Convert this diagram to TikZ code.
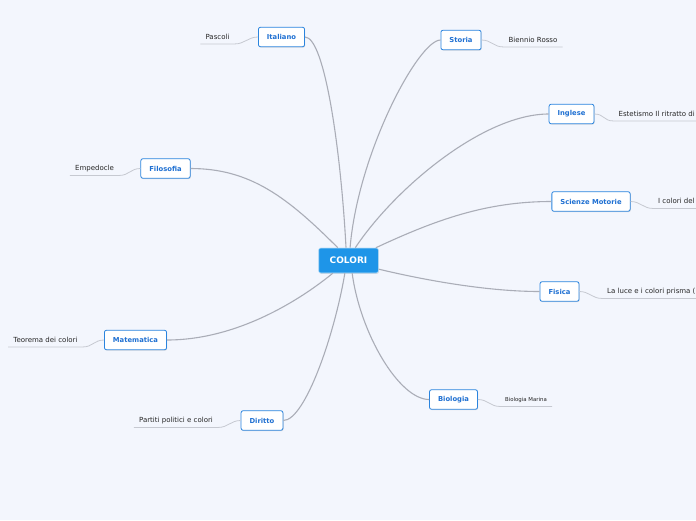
\documentclass[tikz,border=0pt]{standalone}
\usepackage{fontspec}
\setmainfont{DejaVu Sans}
\usetikzlibrary{shadows}
\definecolor{pagebg}{HTML}{F3F6FD}
\definecolor{rootblue}{HTML}{1E95E8}
\definecolor{topicblue}{HTML}{2A84DE}
\definecolor{topictext}{HTML}{1F70D2}
\definecolor{branchgrey}{HTML}{AAADB7}
\definecolor{twiggrey}{HTML}{C6C9D1}

\begin{document}
\begin{tikzpicture}[x=1pt,y=-1pt,
  root/.style={fill=rootblue,draw=white!70!rootblue,line width=0.6pt,rounded corners=2pt,
    font=\bfseries\fontsize{9}{10}\selectfont,text=white,inner xsep=11pt,minimum height=25pt,
    drop shadow={shadow xshift=0.6pt,shadow yshift=-0.8pt,opacity=0.25}},
  topic/.style={fill=white,draw=topicblue,line width=0.8pt,rounded corners=2pt,
    font=\bfseries\fontsize{6.8}{8}\selectfont,text=topictext,inner xsep=8.5pt,minimum height=19.5pt,
    drop shadow={shadow xshift=0.6pt,shadow yshift=-0.8pt,opacity=0.25}},
  leaf/.style={font=\fontsize{7}{8}\selectfont,text=black!85,inner xsep=5pt,inner ysep=3pt,
    text height=5pt,text depth=1.5pt},
  branch/.style={draw=branchgrey,line width=1.1pt},
  twig/.style={draw=twiggrey,line width=0.8pt},
]
\useasboundingbox[fill=pagebg] (0,0) rectangle (696,520);

\node[root] (colori) at (348.5,260.5) {COLORI};
\node[topic] (italiano) at (281.5,37) {Italiano};
\node[topic] (storia) at (461,40) {Storia};
\node[topic] (inglese) at (571.5,114) {Inglese};
\node[topic] (scienze) at (591,201.5) {Scienze Motorie};
\node[topic] (fisica) at (559.5,291.5) {Fisica};
\node[topic] (biologia) at (453.5,399.5) {Biologia};
\node[topic] (diritto) at (262,420.5) {Diritto};
\node[topic] (matematica) at (135.5,340) {Matematica};
\node[topic] (filosofia) at (165.5,168.5) {Filosofia};

\node[leaf] (pascoli) at (217.5,37.5) {Pascoli};
\node[leaf] (biennio) at (533,40.5) {Biennio Rosso};
\node[leaf,anchor=east] (estetismo) at (700,114.5) {Estetismo Il ritratto di};
\node[leaf,anchor=west] (coloridel) at (653,202) {I colori del};
\node[leaf,anchor=west] (luce) at (602,292) {La luce e i colori prisma (};
\node[leaf,font=\fontsize{5.4}{6}\selectfont] (marina) at (526,400) {Biologia Marina};
\node[leaf] (partiti) at (176,421) {Partiti politici e colori};
\node[leaf] (teorema) at (45.5,340.5) {Teorema dei colori};
\node[leaf] (empedocle) at (94.5,169) {Empedocle};

\draw[branch] (italiano.east) .. controls +(20,0) and +(-5,-95) .. (colori.101);
\draw[branch] (storia.west) .. controls +(-22,0) and +(8,-95) .. (colori.83);
\draw[branch] (inglese.west) .. controls +(-65,0) and +(40,-60) .. (colori.62);
\draw[branch] (scienze.west) .. controls +(-65,0) and +(60,-28) .. (colori.25);
\draw[branch] (fisica.west) .. controls +(-50,0) and +(50,12) .. (colori.-16);
\draw[branch] (biologia.west) .. controls +(-30,0) and +(8,60) .. (colori.-74);
\draw[branch] (diritto.east) .. controls +(22,0) and +(-10,60) .. (colori.-106);
\draw[branch] (matematica.east) .. controls +(70,0) and +(-33,27) .. (colori.-141);
\draw[branch] (filosofia.east) .. controls +(60,0) and +(-50,-50) .. (colori.130);

\draw[twig] (italiano.west) .. controls +(-10,0) and +(10,0) .. (pascoli.south east) -- (pascoli.south west);
\draw[twig] (storia.east) .. controls +(10,0) and +(-10,0) .. (biennio.south west) -- (biennio.south east);
\draw[twig] (inglese.east) .. controls +(10,0) and +(-10,0) .. (estetismo.south west) -- (estetismo.south east);
\draw[twig] (scienze.east) .. controls +(10,0) and +(-10,0) .. (coloridel.south west) -- (coloridel.south east);
\draw[twig] (fisica.east) .. controls +(10,0) and +(-10,0) .. (luce.south west) -- (luce.south east);
\draw[twig] (biologia.east) .. controls +(10,0) and +(-10,0) .. (marina.south west) -- (marina.south east);
\draw[twig] (diritto.west) .. controls +(-10,0) and +(10,0) .. (partiti.south east) -- (partiti.south west);
\draw[twig] (matematica.west) .. controls +(-10,0) and +(10,0) .. (teorema.south east) -- (teorema.south west);
\draw[twig] (filosofia.west) .. controls +(-10,0) and +(10,0) .. (empedocle.south east) -- (empedocle.south west);
\end{tikzpicture}
\end{document}
